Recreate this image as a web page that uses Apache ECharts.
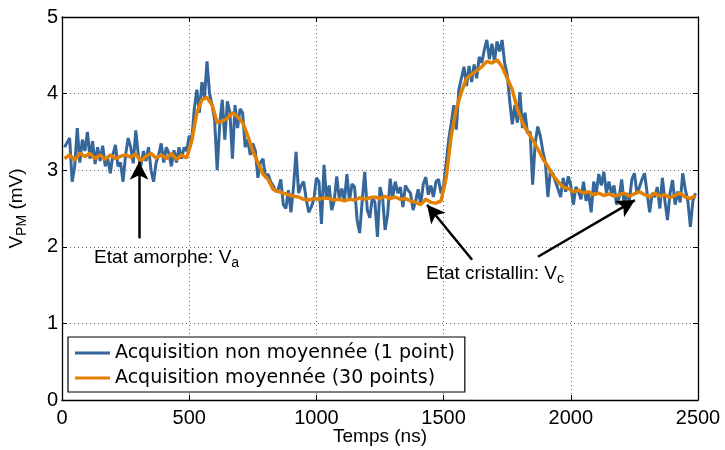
<!DOCTYPE html>
<html>
<head>
<meta charset="utf-8">
<script src="https://cdn.jsdelivr.net/npm/echarts@6/dist/echarts.min.js"></script>
<style>html,body{margin:0;padding:0;background:#fff}#c{width:725px;height:450px}</style>
</head>
<body>
<div id="c"></div>
<script>
// ---- data ----
const seriesNames = ['Acquisition non moyennée (1 point)', 'Acquisition moyennée (30 points)'];
const blueStart = 10, blueStep = 10;   // ns
const blueValues = [
3.30,3.36,3.42,2.85,3.05,3.55,3.10,3.40,3.25,3.50,
3.15,3.38,3.08,3.30,3.12,3.32,3.05,3.15,2.96,3.20,
3.33,3.05,3.10,2.85,3.20,3.42,3.30,3.09,3.52,3.20,
3.05,3.25,3.12,3.30,3.00,2.85,3.10,3.20,3.35,3.10,
3.30,3.22,3.05,3.26,3.10,3.30,3.15,3.30,3.25,3.45,
3.40,3.80,4.05,3.75,4.15,3.95,4.42,4.00,3.85,3.65,
3.00,3.60,3.92,3.40,3.90,3.75,3.15,3.85,3.55,3.80,
3.75,3.30,3.40,3.20,3.35,3.25,2.90,3.10,3.15,2.90,
2.95,2.85,2.80,2.72,
2.75,2.88,2.55,2.50,2.74,2.45,2.78,3.24,2.70,2.80,
2.85,2.62,2.45,2.52,2.62,2.90,2.85,2.30,3.07,2.62,
2.80,2.48,2.60,2.92,2.62,2.76,2.60,2.95,2.60,2.82,
2.78,2.35,2.18,2.60,2.98,2.48,2.38,2.65,2.58,2.13,
2.78,
2.65,2.22,2.42,2.89,2.65,2.85,2.70,2.78,2.52,2.80,
2.74,2.70,2.48,2.60,2.75,2.55,2.82,2.91,2.68,2.80,
2.65,2.85,2.88,2.70,2.80,3.09,3.40,3.61,3.85,3.53,
4.05,4.20,4.35,4.10,4.36,4.15,4.38,4.20,4.48,4.40,
4.57,
4.70,4.45,4.65,4.42,4.68,4.55,4.70,4.40,4.25,3.90,
3.60,3.85,3.62,4.02,3.55,3.75,3.48,3.50,2.81,3.35,
3.57,3.45,3.25,3.10,2.65,3.00,2.95,2.85,2.75,2.65,
2.90,2.72,2.92,2.80,2.55,2.78,2.72,2.62,2.85,2.60,
2.70,
2.45,2.85,2.70,2.95,2.80,2.98,2.70,2.85,2.70,2.80,
2.55,2.65,2.88,2.55,2.70,2.60,2.88,2.96,2.70,2.78,
2.88,2.96,2.70,2.45,2.70,2.65,2.78,2.50,2.90,2.60,
2.35,2.70,2.87,2.55,2.72,2.58,2.96,2.75,2.60,2.26,
2.60,2.70
];
const orangeStart = 10, orangeStep = 20; // ns
const orangeValues = [
3.15,3.20,3.13,3.22,3.18,3.22,3.15,3.20,3.14,3.20,3.15,3.18,3.20,3.17,3.21,3.12,3.18,3.22,3.16,3.20,3.15,3.22,3.14,3.20,3.16,
3.38,3.75,3.92,3.95,3.85,3.62,3.64,3.68,3.75,3.70,3.62,3.45,3.25,3.10,2.95,2.88,2.75,2.72,2.70,2.68,2.66,2.65,2.62,2.61,2.63,
2.62,2.64,2.63,2.61,2.62,2.60,2.62,2.61,2.64,2.62,2.64,2.65,2.63,2.66,2.63,2.65,2.62,2.63,2.60,2.58,2.55,2.62,2.58,2.57,2.60,
2.90,3.45,3.80,4.02,4.20,4.25,4.30,4.35,4.42,4.40,4.44,4.35,4.20,4.05,3.80,3.62,3.50,3.40,3.28,3.15,3.05,2.93,2.85,2.78,2.76,
2.72,2.74,2.70,2.72,2.68,2.70,2.67,2.69,2.66,2.68,2.70,2.66,2.69,2.72,2.68,2.65,2.70,2.66,2.68,2.64,2.67,2.70,2.65,2.63,2.67
];
const xTicks = [0, 500, 1000, 1500, 2000, 2500];
const yTicks = [0, 1, 2, 3, 4, 5];
// annotations (data coordinates): [tailX, tailY, tipX, tipY]
const arrows = [
  [303, 2.11, 303, 3.11],
  [1612, 1.83, 1435, 2.55],
  [1871, 1.87, 2252, 2.61]
];
const labelAmorphe = {x: 126, y: 1.86, text: 'Etat amorphe: V', sub: 'a'};
const labelCristal = {x: 1431, y: 1.65, text: 'Etat cristallin: V', sub: 'c'};

// ---- chart ----
const blueData = blueValues.map((v, i) => [blueStart + i * blueStep, v]);
const orangeData = orangeValues.map((v, i) => [orangeStart + i * orangeStep, v]);
const FONT = 'Liberation Sans';
const chart = echarts.init(document.getElementById('c'), null, {renderer: 'canvas'});

const axisCommon = {
  type: 'value',
  axisLine: {show: true, onZero: false, lineStyle: {color: '#000', width: 1.3}},
  axisTick: {show: true, inside: true, length: 5, lineStyle: {color: '#000', width: 1}},
};

const option = {
  animation: false,
  backgroundColor: '#fff',
  grid: {left: 62, right: 27, top: 17, bottom: 50, containLabel: false, outerBoundsMode: 'none'},
  xAxis: [
    Object.assign({}, axisCommon, {
      min: xTicks[0], max: xTicks[xTicks.length - 1], interval: 500, position: 'bottom',
      axisLabel: {color: '#000', fontFamily: FONT, fontSize: 20, margin: 8, formatter: v => String(v)},
      splitLine: {show: true, lineStyle: {color: '#666', type: [1, 3], width: 1}},
      name: 'Temps (ns)', nameLocation: 'middle', nameGap: 27, nameMoveOverlap: false,
      nameTextStyle: {color: '#000', fontFamily: FONT, fontSize: 19}
    }),
    Object.assign({}, axisCommon, {
      min: xTicks[0], max: xTicks[xTicks.length - 1], interval: 500, position: 'top',
      axisLabel: {show: false}, splitLine: {show: false}
    })
  ],
  yAxis: [
    Object.assign({}, axisCommon, {
      min: yTicks[0], max: yTicks[yTicks.length - 1], interval: 1, position: 'left',
      axisLabel: {color: '#000', fontFamily: FONT, fontSize: 20, margin: 4, formatter: v => String(v)},
      splitLine: {show: true, lineStyle: {color: '#666', type: [1, 3], width: 1}},
      name: 'V{sub|PM} (mV)', nameLocation: 'middle', nameGap: 33, nameRotate: 90, nameMoveOverlap: false,
      nameTextStyle: {color: '#000', fontFamily: FONT, fontSize: 19,
        rich: {sub: {fontFamily: FONT, fontSize: 14, color: '#000', padding: [10, 0, 0, 0]}}}
    }),
    Object.assign({}, axisCommon, {
      min: yTicks[0], max: yTicks[yTicks.length - 1], interval: 1, position: 'right',
      axisLabel: {show: false}, splitLine: {show: false}
    })
  ],
  legend: {
    show: true,
    orient: 'vertical',
    left: 68, top: 337,
    padding: [6, 10, 4, 7],
    itemGap: 5,
    icon: 'rect',
    itemWidth: 35, itemHeight: 3,
    backgroundColor: '#fff',
    borderColor: '#000', borderWidth: 1.2, borderRadius: 0,
    textStyle: {color: '#000', fontFamily: 'DejaVu Sans', fontSize: 19, lineHeight: 20},
    data: seriesNames
  },
  series: [
    {
      name: seriesNames[0], type: 'line', data: blueData, showSymbol: false, symbol: 'none',
      lineStyle: {color: '#35679A', width: 3}, itemStyle: {color: '#35679A'}, z: 2
    },
    {
      name: seriesNames[1], type: 'line', data: orangeData, showSymbol: false, symbol: 'none',
      lineStyle: {color: '#E38000', width: 3.5}, itemStyle: {color: '#E38000'}, z: 3
    },
    {
      name: 'annotations', type: 'line', data: [], z: 5, silent: true,
      markLine: {
        silent: true, symbol: ['none', 'arrow'], symbolSize: [14, 18],
        lineStyle: {color: '#000', width: 2.5, type: 'solid'},
        label: {show: false},
        data: arrows.map(a => [{coord: [a[0], a[1]]}, {coord: [a[2], a[3]]}])
      },
      markPoint: {
        silent: true, symbol: 'circle', symbolSize: 0,
        label: {
          show: true, position: 'right', distance: 0, color: '#000',
          fontFamily: FONT, fontSize: 19,
          rich: {sub: {fontFamily: FONT, fontSize: 14, color: '#000', padding: [12, 0, 0, 0]}}
        },
        data: [labelAmorphe, labelCristal].map(l => ({
          coord: [l.x, l.y], value: 0,
          label: {formatter: l.text + '{sub|' + l.sub + '}'}
        }))
      }
    }
  ]
};
chart.setOption(option);
</script>
</body>
</html>
